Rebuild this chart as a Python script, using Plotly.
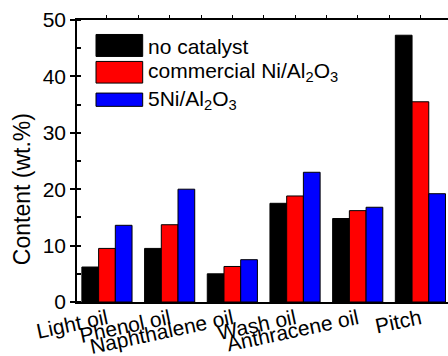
import plotly.graph_objects as go

categories = ["Light oil", "Phenol oil", "Naphthalene oil", "Wash oil", "Anthracene oil", "Pitch"]
no_catalyst = [6.2, 9.5, 5.0, 17.5, 14.8, 47.3]
commercial = [9.5, 13.7, 6.3, 18.8, 16.2, 35.5]
ni5 = [13.6, 20.0, 7.5, 23.0, 16.8, 19.2]
series_names = ["no catalyst", "commercial Ni/Al<sub>2</sub>O<sub>3</sub>", "5Ni/Al<sub>2</sub>O<sub>3</sub>"]
series_colors = ["#000000", "#FF0000", "#0000FF"]
y_ticks = [0, 10, 20, 30, 40, 50]
y_title = "Content (wt.%)"

W, H = 448, 356
ML, MR, MT, MB = 77, 0, 19.5, 54
FONT = "Arial, Liberation Sans, sans-serif"

fig = go.Figure()
for name, vals, col in zip(series_names, [no_catalyst, commercial, ni5], series_colors):
    fig.add_trace(go.Bar(x=categories, y=vals, name=name, marker_color=col,
                         marker_line=dict(color="#000000", width=1), showlegend=False))

xr = [-0.478, 5.44]
fig.update_layout(
    width=W, height=H,
    margin=dict(l=ML, r=MR, t=MT, b=MB, autoexpand=False),
    paper_bgcolor="white", plot_bgcolor="white",
    barmode="group", bargap=0.2, bargroupgap=0,
    font=dict(family=FONT, color="#000000", size=21),
    xaxis=dict(range=xr, showline=True, linecolor="#000000", linewidth=1.5, automargin=False,
               ticks="", tickangle=-12, tickfont=dict(size=21), showgrid=False,
               ticklabelstandoff=-5),
    xaxis2=dict(overlaying="x", side="top", range=xr, dtick=0.5, tick0=0, automargin=False,
                showline=True, linecolor="#000000", linewidth=1.5,
                ticks="outside", ticklen=3, tickcolor="#000000",
                showticklabels=False, showgrid=False, zeroline=False),
    yaxis=dict(range=[0, 50], tickvals=y_ticks, showline=True, linecolor="#000000", linewidth=1.5,
               ticks="outside", ticklen=5, tickcolor="#000000", tickwidth=1.5, automargin=False,
               tickfont=dict(size=21), showgrid=False, zeroline=False,
               minor=dict(dtick=5, ticks="inside", ticklen=4, tickcolor="#000000", tickwidth=1.5)),
)
# invisible trace to activate xaxis2
fig.add_trace(go.Scatter(x=[0], y=[0], xaxis="x2", mode="markers", marker=dict(opacity=0),
                         showlegend=False, hoverinfo="skip"))

pw = W - ML - MR
ph = H - MT - MB
def px_x(x):
    return (x - ML) / pw
def px_y(y):
    return 1 - (y - MT) / ph

# y-axis title, placed like the reference (lower than the plot centre)
fig.add_annotation(xref="paper", yref="paper", x=px_x(22), y=px_y(189), text=y_title,
                   textangle=-90, showarrow=False, xanchor="center", yanchor="middle",
                   font=dict(size=23, family=FONT, color="#000000"))

# manual legend (large swatches like the reference)
boxes = [(34, 56), (61, 82.7), (92.7, 106)]
text_y = [46, 72, 100]
for (y0, y1), col, name, ty in zip(boxes, series_colors, series_names, text_y):
    fig.add_shape(type="rect", xref="paper", yref="paper",
                  x0=px_x(96), x1=px_x(142.7), y0=px_y(y1), y1=px_y(y0),
                  fillcolor=col, line=dict(color="#000000", width=1))
    fig.add_annotation(xref="paper", yref="paper", x=px_x(146), y=px_y(ty),
                       text=name, showarrow=False, xanchor="left", yanchor="middle",
                       font=dict(size=21, family=FONT, color="#000000"))

fig.write_html("out.html", config={"displayModeBar": False},
               post_script="document.body.style.margin='0';document.body.style.overflow='hidden';")
